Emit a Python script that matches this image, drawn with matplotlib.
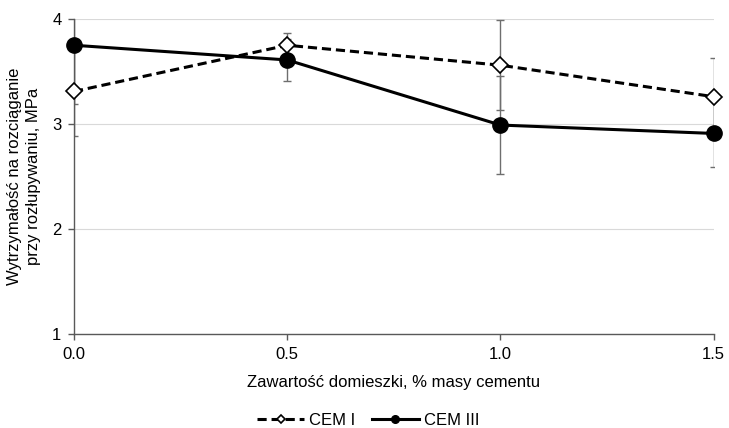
import matplotlib.pyplot as plt

plt.rcParams['font.family'] = ['Liberation Sans', 'DejaVu Sans']

# zawartosc domieszki, % masy cementu
dose = [0.0, 0.5, 1.0, 1.5]
cem1 = [3.31, 3.75, 3.56, 3.26]
cem1_err = [0.42, 0.12, 0.43, 0.37]
cem3 = [3.75, 3.61, 2.99, 2.91]
cem3_err = [0.56, 0.20, 0.47, 0.32]
xticks = [0.0, 0.5, 1.0, 1.5]
yticks = [1, 2, 3, 4]

fs = 12

fig = plt.figure(figsize=(7.29, 4.28), dpi=100)
ax = fig.add_axes([0.1015, 0.2196, 0.8775, 0.736])

# error bars first, lines on top
ax.errorbar(dose, cem1, yerr=cem1_err, fmt='none', ecolor='#6e6e6e',
            elinewidth=1, capsize=3, capthick=1, zorder=2)
ax.errorbar(dose, cem3, yerr=cem3_err, fmt='none', ecolor='#6e6e6e',
            elinewidth=1, capsize=3, capthick=1, zorder=2)

ax.plot(dose, cem1, color='black', lw=2.2, ls=(0, (3, 1.6)), marker='D',
        markersize=8, markerfacecolor='white', markeredgecolor='black',
        markeredgewidth=1.2, label='CEM I', zorder=3, clip_on=False)
ax.plot(dose, cem3, color='black', lw=2.2, marker='o', markersize=11,
        markerfacecolor='black', label='CEM III', zorder=4, clip_on=False)

ax.set_xlim(0, 1.5)
ax.set_ylim(1, 4)
ax.set_xticks(xticks)
ax.set_xticklabels(['%.1f' % v for v in xticks])
ax.set_yticks(yticks)
ax.yaxis.grid(True, color='#d9d9d9', lw=0.8)
ax.set_axisbelow(True)

for s in ['top', 'right']:
    ax.spines[s].set_visible(False)
for s in ['left', 'bottom']:
    ax.spines[s].set_color('#595959')
    ax.spines[s].set_linewidth(1)
ax.tick_params(axis='both', colors='#595959', labelcolor='black',
               labelsize=fs, length=4, width=1)
ax.tick_params(axis='x', pad=5)
ax.tick_params(axis='y', pad=5)

ax.set_xlabel('Zawartość domieszki, % masy cementu', fontsize=fs, labelpad=10)
ax.set_ylabel('Wytrzymałość na rozciąganie\nprzy rozłupywaniu, MPa',
              fontsize=fs, labelpad=8, linespacing=1.35)

fig.legend(loc='lower center', bbox_to_anchor=(0.505, -0.035), ncol=2,
           frameon=False, fontsize=fs, markerscale=0.5, handlelength=2.8,
           columnspacing=1.0, handletextpad=0.3)

fig.savefig('out.png', dpi=100)
